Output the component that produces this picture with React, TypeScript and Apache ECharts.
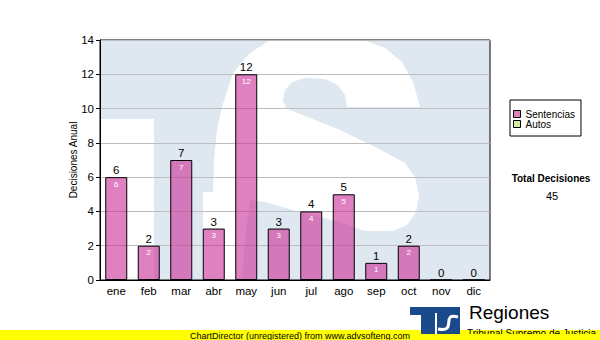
import React, { useEffect, useRef } from "react";
import * as echarts from "echarts";

const months = ["ene", "feb", "mar", "abr", "may", "jun", "jul", "ago", "sep", "oct", "nov", "dic"];
const sentencias = [6, 2, 7, 3, 12, 3, 4, 5, 1, 2, 0, 0];
const autos: number[] = [];
const seriesNames = ["Sentencias", "Autos"];
const yMin = 0;
const yMax = 14;
const yInterval = 2;
const yAxisTitle = "Decisiones Anual";
const totalTitle = "Total Decisiones";
const footerText = "ChartDirector (unregistered) from www.advsofteng.com";
const brandTitle = "Regiones";
const brandSubtitle = "Tribunal Supremo de Justicia";

const FONT = "'Liberation Sans', Arial, sans-serif";
const WM = "#dfe8f1";

export default function App() {
  const ref = useRef<HTMLDivElement>(null);

  useEffect(() => {
    document.body.style.margin = "0";
    if (!ref.current) return;
    const chart = echarts.init(ref.current, null, { renderer: "svg" });
    const total = sentencias.reduce((a, b) => a + b, 0);

    const whitePoly = [
      [203, 280], [203, 192], [213, 192], [214, 160], [217, 130], [222, 107], [233, 73], [250, 53], [270, 40],
      [363, 40], [385, 48], [402, 62], [413, 82], [420, 107], [347, 107], [345, 95], [338, 85], [325, 79],
      [305, 78], [292, 82], [285, 90], [283, 100], [286, 108], [300, 114], [340, 130], [375, 147], [405, 163],
      [415, 177], [419, 195], [416, 212], [407, 225], [393, 231], [365, 231], [340, 222], [300, 212],
      [265, 202], [250, 200], [245, 240], [242, 280],
    ];

    const graphic: any[] = [
      { type: "rect", z: -5, silent: true, shape: { x: 100, y: 40, width: 390, height: 240 }, style: { fill: WM } },
      { type: "rect", z: -4, silent: true, shape: { x: 100, y: 119, width: 54, height: 161 }, style: { fill: "#fff" } },
      { type: "polygon", z: -4, silent: true, shape: { points: whitePoly }, style: { fill: "#fff" } },
      // total
      { type: "text", x: 551, y: 178, style: { text: totalTitle, font: `bold 10px ${FONT}`, fill: "#000", align: "center", verticalAlign: "middle" } },
      { type: "text", x: 552, y: 196, style: { text: String(total), font: `11px ${FONT}`, fill: "#000", align: "center", verticalAlign: "middle" } },
      // footer band
      { type: "rect", z: 10, shape: { x: 0, y: 330, width: 600, height: 10 }, style: { fill: "#ffff00" } },
      // logo
      { type: "rect", z: 10, shape: { x: 410, y: 307, width: 50, height: 8 }, style: { fill: "#1a4a8c" } },
      { type: "rect", z: 10, shape: { x: 421, y: 307, width: 14, height: 27 }, style: { fill: "#1a4a8c" } },
      { type: "rect", z: 10, shape: { x: 437, y: 313, width: 23, height: 21 }, style: { fill: "#1a4a8c" } },
      { type: "bezierCurve", z: 11, shape: { x1: 458, y1: 317, cpx1: 440, cpy1: 312, cpx2: 458, cpy2: 333, x2: 438, y2: 329 }, style: { stroke: "#fff", lineWidth: 3, fill: null } },
      { type: "rect", z: 11, shape: { x: 435, y: 313, width: 2, height: 21 }, style: { fill: "#fff" } },
      { type: "text", z: 10, x: 469, y: 303, style: { text: brandTitle, font: `19px ${FONT}`, fill: "#000", align: "left", verticalAlign: "top" } },
      { type: "text", z: 11, x: 467, y: 328, style: { text: brandSubtitle, font: `10px ${FONT}`, fill: "#000", align: "left", verticalAlign: "top" } },
      { type: "rect", z: 12, shape: { x: 0, y: 334, width: 600, height: 6 }, style: { fill: "#ffff00" } },
      { type: "text", z: 13, x: 300, y: 335.5, style: { text: footerText, font: `9px ${FONT}`, fill: "#000", align: "center", verticalAlign: "middle" } },
    ];

    chart.setOption({
      animation: false,
      backgroundColor: "#fff",
      textStyle: { fontFamily: FONT },
      grid: { left: 100, right: 110, top: 40, bottom: 60, show: true, borderColor: "#000", borderWidth: 1, backgroundColor: "transparent" },
      legend: {
        data: seriesNames,
        orient: "vertical",
        left: 510,
        top: 100,
        icon: "rect",
        itemWidth: 7,
        itemHeight: 7,
        itemGap: 0,
        padding: [9, 6, 7, 3],
        borderColor: "#000",
        borderWidth: 1,
        backgroundColor: "#fff",
        itemStyle: { borderColor: "#000", borderWidth: 1 },
        textStyle: { fontSize: 10, color: "#000", lineHeight: 10, fontFamily: FONT },
      },
      xAxis: {
        type: "category",
        data: months,
        axisLine: { lineStyle: { color: "#000" } },
        axisTick: { alignWithLabel: true, length: 4, lineStyle: { color: "#000" } },
        axisLabel: { color: "#000", fontSize: 11.5, margin: 5 },
      },
      yAxis: {
        type: "value",
        min: yMin,
        max: yMax,
        interval: yInterval,
        name: yAxisTitle,
        nameLocation: "middle",
        nameGap: 22,
        nameMoveOverlap: false,
        nameTextStyle: { fontSize: 10, color: "#000" },
        axisLine: { show: true, lineStyle: { color: "#000" } },
        axisTick: { show: true, length: 4, lineStyle: { color: "#000" } },
        axisLabel: { color: "#000", fontSize: 11.5, margin: 6 },
        splitLine: { lineStyle: { color: "#bdbdbd" } },
      },
      series: [
        {
          name: seriesNames[0],
          type: "bar",
          data: sentencias,
          barWidth: 22,
          itemStyle: { color: "rgba(204,51,153,0.62)", borderColor: "#000", borderWidth: 1 },
          label: { show: true, position: "top", distance: 1, color: "#000", fontSize: 11.5 },
          z: 3,
        },
        {
          name: "inner",
          type: "bar",
          data: sentencias,
          barWidth: 22,
          barGap: "-100%",
          silent: true,
          itemStyle: { color: "transparent", borderWidth: 0 },
          label: {
            show: true,
            position: "insideTop",
            distance: 3,
            fontSize: 8,
            color: "#fff",
            formatter: (p: any) => (p.value > 0 ? String(p.value) : ""),
          },
          z: 4,
        },
        {
          name: seriesNames[1],
          type: "line",
          data: autos,
          itemStyle: { color: "#d4eca0" },
        },
      ],
      graphic,
    });
    return () => chart.dispose();
  }, []);

  return <div ref={ref} style={{ width: 600, height: 340 }} />;
}
